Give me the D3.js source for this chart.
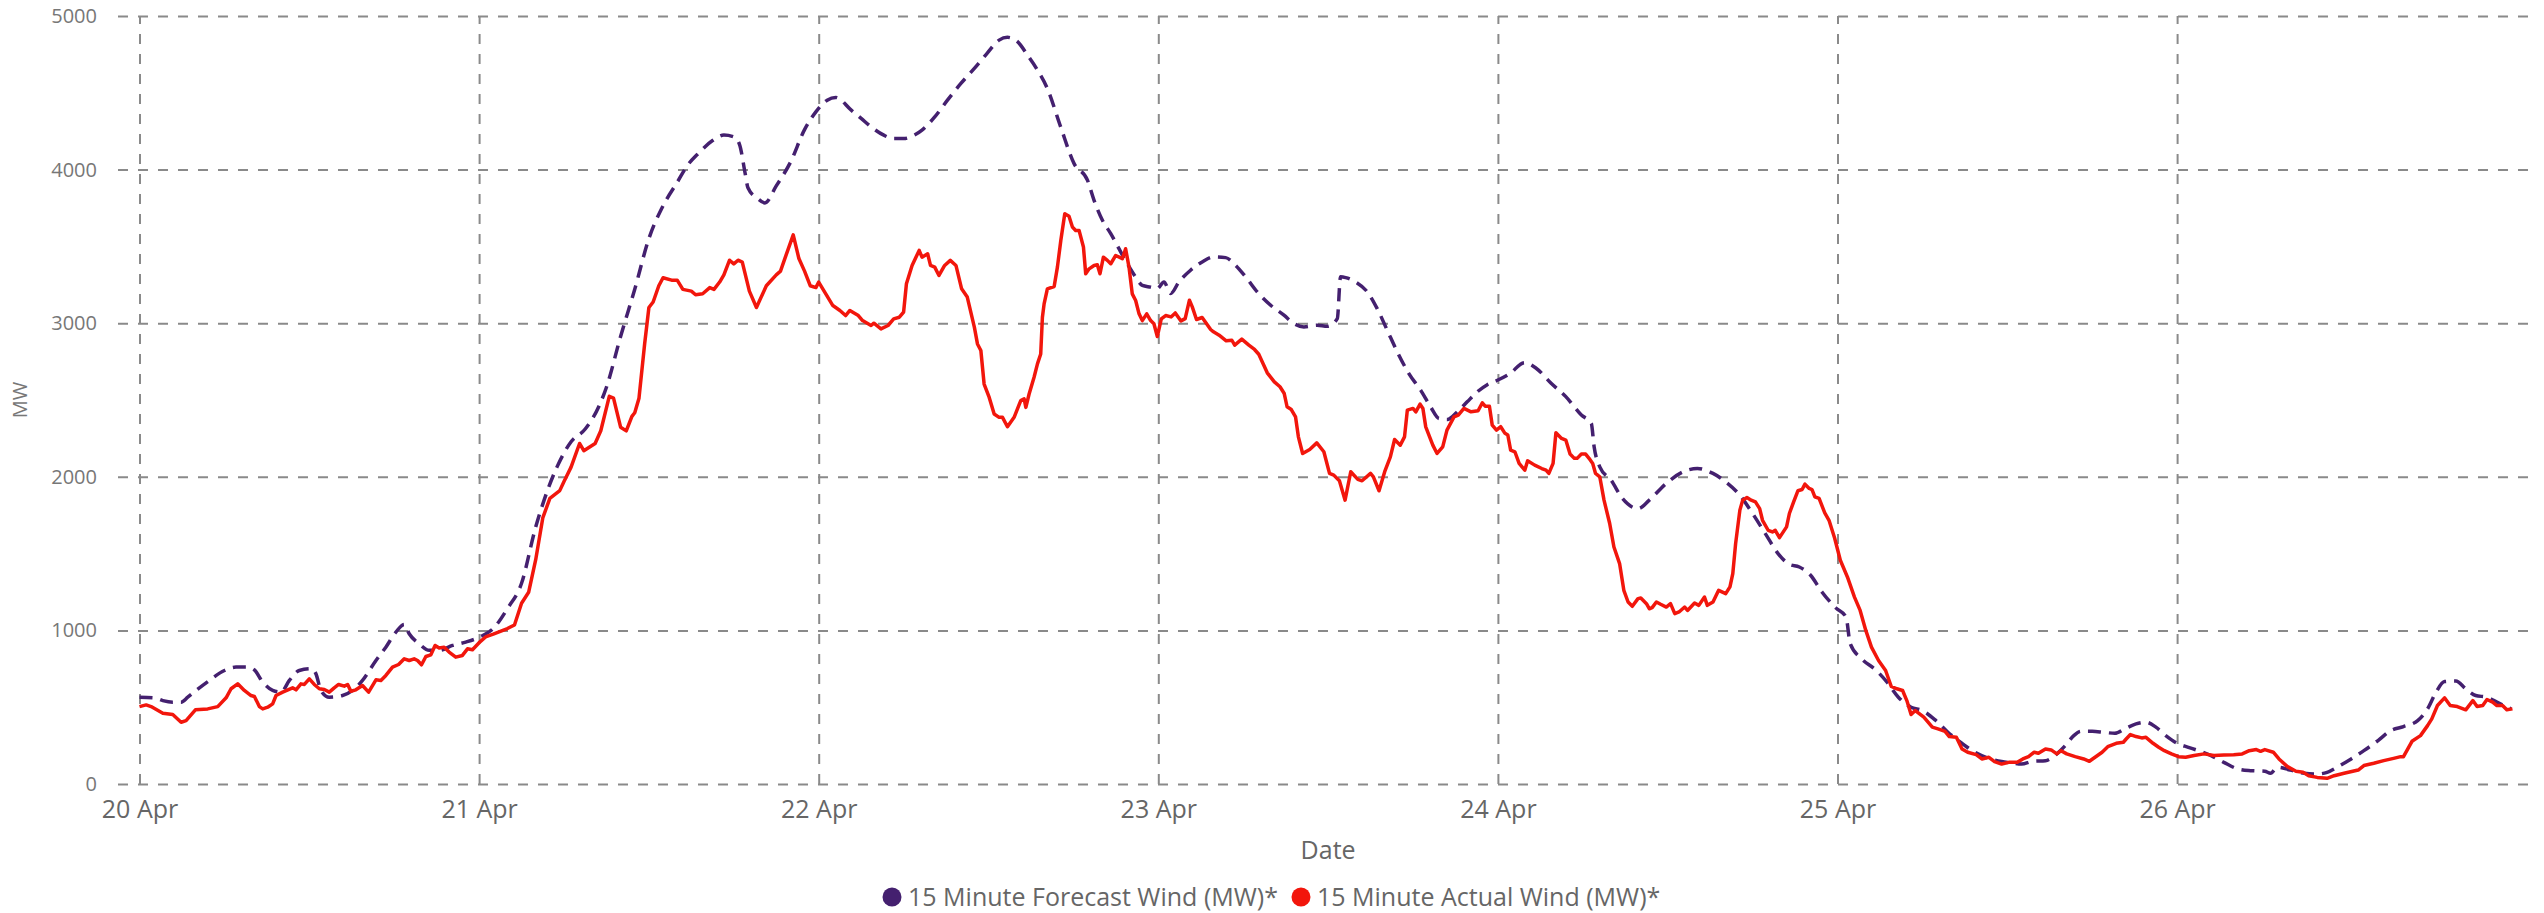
<!DOCTYPE html>
<html>
<head>
<meta charset="utf-8">
<script src="https://cdn.jsdelivr.net/npm/d3@7/dist/d3.min.js"></script>
<style>
  html, body { margin: 0; padding: 0; background: #fff; }
  svg { display: block; }
  text { font-family: "Segoe UI", "Open Sans", "Noto Sans", sans-serif; }
</style>
</head>
<body>
<svg id="chart" width="2544" height="913"></svg>
<script>
// ---- data (hours since 20 Apr 00:00, MW) ----
const dayLabels = ["20 Apr", "21 Apr", "22 Apr", "23 Apr", "24 Apr", "25 Apr", "26 Apr"];
const yTicks = [0, 1000, 2000, 3000, 4000, 5000];
const seriesNames = ["15 Minute Forecast Wind (MW)*", "15 Minute Actual Wind (MW)*"];

const forecast = [
  [0,565],[1.06,561],[1.65,543],[2.35,533],[2.94,533],[3.41,565],[4.0,609],[4.94,674],[6.0,739],[6.82,761],
  [7.65,761],[8.12,743],[8.71,663],[9.41,609],[10.0,598],[10.59,674],[11.29,739],[12.12,750],[12.47,717],[12.82,609],
  [13.41,565],[14.35,576],[15.06,609],[15.76,674],[16.71,804],[17.41,891],[18.12,989],[18.71,1039],[19.06,978],[19.76,913],
  [20.47,870],[21.18,870],[22.12,902],[23.06,924],[24,955],[25,1012],[26,1142],[27,1307],[28,1673],[28.6,1850],
  [29.5,2063],[30.5,2228],[31.5,2311],[32.5,2465],[33,2583],[34,2914],[35,3221],[36,3551],[37,3764],[38,3917],
  [38.7,4024],[39.5,4106],[40.5,4189],[41.3,4225],[42,4213],[42.4,4165],[42.8,3976],[43.0,3882],[43.7,3811],[44.2,3783],
  [45,3894],[46,4047],[47,4260],[47.8,4376],[48.6,4452],[49.2,4470],[50.3,4387],[51.0,4333],[51.7,4278],[52.6,4224],
  [53.3,4202],[54.0,4202],[54.75,4224],[55.3,4257],[56.2,4343],[57.1,4452],[58.05,4561],[59.0,4659],[59.9,4757],[60.75,4843],
  [61.34,4861],[62.05,4833],[62.75,4746],[63.46,4648],[64.16,4528],[65.1,4278],[66.05,4039],[67.0,3930],[67.46,3800],[68.05,3670],
  [68.64,3583],[69.22,3485],[69.81,3387],[70.4,3300],[70.87,3246],[71.46,3235],[71.93,3226],[72.4,3269],[72.87,3193],[73.46,3269],
  [74.28,3345],[75.1,3399],[75.93,3432],[76.76,3427],[77.46,3377],[78.17,3302],[78.99,3204],[79.94,3117],[80.88,3052],[81.58,2998],
  [82.29,2976],[83.23,2987],[83.94,2980],[84.65,3030],[84.88,3302],[85.24,3297],[85.94,3269],[86.77,3204],[87.47,3095],[88.18,2954],
  [88.89,2813],[89.71,2672],[90.54,2564],[91.24,2456],[91.83,2380],[92.42,2373],[93.13,2423],[93.83,2488],[94.54,2553],[95.25,2600],
  [96,2630],[96.82,2670],[97.88,2743],[98.7,2707],[99.76,2609],[100.8,2522],[101.9,2402],[102.6,2348],[102.8,2196],[103.2,2065],
  [104,1978],[104.8,1859],[105.9,1793],[106.7,1848],[107.9,1957],[109.1,2033],[110.1,2054],[111.2,2022],[112.1,1967],[113.1,1880],
  [114,1761],[114.9,1630],[115.8,1500],[116.6,1430],[117.3,1413],[118.1,1359],[118.9,1250],[119.9,1145],[120.6,1087],[120.9,913],
  [121.7,815],[122.7,743],[123.5,663],[124.3,565],[125.2,500],[126,478],[126.9,417],[127.8,337],[128.8,265],[129.7,207],
  [130.7,167],[131.6,146],[132.3,137],[133,130],[133.8,148],[134.7,152],[135.5,196],[136.1,250],[136.7,315],[137.2,343],
  [138,343],[138.8,337],[139.6,330],[140.3,359],[141.1,391],[141.8,402],[142.5,370],[143.2,315],[144,265],[144.8,239],
  [145.5,217],[146.4,185],[147.3,141],[148.3,98],[149.2,87],[150.2,83],[150.6,70],[151.1,109],[152,91],[153,70],
  [153.9,65],[154.6,76],[155.3,109],[156.3,163],[157.2,217],[158.2,283],[159.1,348],[160,374],[161,413],[161.7,489],
  [162.3,598],[162.9,667],[163.7,670],[164.4,620],[165.1,576],[165.9,565],[166.6,533],[167.6,489]
];

const actual = [
  [0,504],[0.47,515],[0.82,504],[1.65,461],[2.35,452],[2.94,402],[3.29,413],[3.95,483],[4.82,489],[5.53,504],
  [6.12,561],[6.47,620],[6.94,652],[7.41,609],[7.88,576],[8.12,570],[8.47,504],[8.71,489],[9.06,500],[9.41,522],
  [9.65,576],[10.12,598],[10.82,626],[11.06,613],[11.41,652],[11.65,648],[12.0,685],[12.35,648],[12.71,620],[13.06,615],
  [13.41,598],[13.76,626],[14.07,648],[14.47,637],[14.71,648],[14.94,604],[15.29,613],[15.76,641],[16.19,598],[16.71,678],
  [17.06,674],[17.41,707],[17.88,761],[18.31,778],[18.71,815],[19.06,804],[19.41,815],[19.65,804],[19.93,776],[20.24,830],
  [20.59,841],[20.89,902],[21.18,885],[21.53,891],[21.88,859],[22.35,826],[22.82,837],[23.18,880],[23.53,874],[24.0,920],
  [24.5,960],[25,976],[26,1012],[26.5,1035],[27,1177],[27.5,1248],[28,1460],[28.5,1732],[29,1860],[29.7,1910],
  [30,1970],[30.5,2063],[31.1,2217],[31.4,2170],[32.2,2217],[32.6,2300],[33.2,2524],[33.5,2512],[34.0,2323],[34.4,2299],
  [34.8,2394],[35.0,2417],[35.3,2512],[35.7,2866],[36.0,3102],[36.3,3138],[36.7,3244],[37.0,3296],[37.6,3280],[38.0,3280],
  [38.4,3220],[39.0,3209],[39.3,3185],[39.8,3192],[40.3,3232],[40.6,3220],[41.0,3268],[41.3,3315],[41.7,3410],[42.0,3386],
  [42.3,3410],[42.6,3398],[43.1,3209],[43.6,3102],[44.3,3244],[45.0,3315],[45.3,3339],[45.7,3445],[46.2,3575],[46.6,3421],
  [47.0,3339],[47.4,3244],[47.8,3232],[48.0,3267],[48.5,3191],[49.0,3115],[49.5,3083],[49.9,3050],[50.2,3083],[50.8,3050],
  [51.1,3017],[51.7,2985],[51.9,3000],[52.4,2963],[52.9,2985],[53.3,3028],[53.7,3039],[54.0,3072],[54.2,3257],[54.6,3376],
  [55.1,3474],[55.3,3430],[55.7,3452],[55.9,3376],[56.2,3365],[56.5,3311],[56.9,3376],[57.3,3409],[57.7,3376],[58.1,3224],
  [58.5,3170],[59.0,2974],[59.22,2865],[59.46,2822],[59.69,2604],[60.05,2517],[60.4,2409],[60.75,2387],[60.99,2387],[61.34,2326],
  [61.81,2387],[62.28,2496],[62.52,2507],[62.64,2452],[62.87,2539],[63.22,2648],[63.46,2735],[63.69,2800],[63.81,3039],[63.93,3126],
  [64.16,3224],[64.64,3239],[64.87,3365],[65.11,3539],[65.39,3713],[65.69,3696],[65.93,3626],[66.16,3604],[66.4,3604],[66.71,3496],
  [66.87,3322],[67.11,3354],[67.46,3376],[67.69,3380],[67.88,3322],[68.12,3430],[68.4,3409],[68.64,3387],[68.99,3441],[69.46,3420],
  [69.69,3485],[69.93,3365],[70.16,3191],[70.4,3148],[70.64,3061],[70.87,3017],[71.18,3061],[71.46,3017],[71.69,2996],[71.93,2913],
  [72.21,3028],[72.52,3050],[72.9,3041],[73.2,3067],[73.6,3015],[73.9,3030],[74.2,3150],[74.4,3106],[74.7,3024],[75.1,3037],
  [75.7,2959],[75.9,2944],[76.3,2922],[76.8,2885],[77.2,2889],[77.4,2857],[77.9,2896],[78.4,2857],[78.8,2829],[79.1,2798],
  [79.4,2738],[79.7,2677],[80.2,2618],[80.6,2586],[80.9,2542],[81.1,2456],[81.4,2438],[81.7,2390],[81.9,2260],[82.2,2152],
  [82.7,2178],[83.2,2221],[83.7,2163],[84.1,2022],[84.4,2011],[84.8,1974],[85.2,1848],[85.6,2033],[86.1,1983],[86.4,1974],
  [87.0,2022],[87.2,2000],[87.6,1909],[88.0,2033],[88.4,2130],[88.7,2243],[89.1,2206],[89.4,2260],[89.6,2434],[90.0,2445],
  [90.2,2423],[90.5,2473],[90.7,2445],[90.9,2325],[91.4,2206],[91.7,2152],[92.1,2195],[92.4,2304],[92.9,2390],[93.2,2401],
  [93.6,2445],[94.1,2423],[94.6,2430],[94.9,2482],[95.1,2460],[95.4,2460],[95.6,2336],[95.9,2304],[96.2,2326],[96.5,2283],
  [96.7,2272],[96.9,2174],[97.2,2163],[97.5,2087],[97.9,2043],[98.1,2104],[98.6,2076],[99.1,2054],[99.4,2043],[99.6,2022],
  [99.9,2087],[100.1,2287],[100.5,2250],[100.8,2239],[101.1,2148],[101.4,2120],[101.6,2120],[101.9,2148],[102.2,2148],[102.5,2113],
  [102.7,2087],[102.9,2022],[103.2,2000],[103.5,1848],[103.9,1696],[104.2,1543],[104.6,1435],[104.9,1261],[105.2,1185],[105.5,1157],
  [105.9,1207],[106.1,1211],[106.5,1174],[106.7,1141],[106.9,1148],[107.2,1185],[107.5,1170],[107.9,1152],[108.2,1174],[108.5,1109],
  [108.8,1120],[109.2,1152],[109.4,1130],[109.9,1178],[110.2,1163],[110.6,1217],[110.8,1163],[111.2,1185],[111.6,1261],[112.1,1239],
  [112.4,1283],[112.6,1370],[112.8,1565],[113.1,1783],[113.3,1848],[113.6,1865],[113.9,1848],[114.2,1837],[114.5,1793],[114.7,1717],
  [115.1,1652],[115.4,1641],[115.6,1652],[115.9,1604],[116.4,1674],[116.6,1761],[116.9,1837],[117.2,1909],[117.5,1917],[117.7,1952],
  [118.0,1924],[118.2,1917],[118.4,1870],[118.7,1859],[119.1,1765],[119.4,1717],[119.8,1600],[120.2,1457],[120.7,1348],[121.2,1217],
  [121.6,1130],[122.0,1000],[122.4,891],[122.9,804],[123.4,739],[123.8,635],[124.2,620],[124.6,609],[124.9,543],[125.2,452],
  [125.5,478],[126.1,435],[126.7,370],[127.1,359],[127.6,343],[127.9,309],[128.4,304],[128.8,228],[129.2,207],[129.8,191],
  [130.2,163],[130.7,174],[131.1,146],[131.6,130],[132.1,141],[132.7,141],[133.1,163],[133.5,178],[133.9,207],[134.2,200],
  [134.7,228],[135.1,222],[135.5,196],[135.8,217],[136.2,196],[136.8,178],[137.4,163],[137.8,148],[138.2,174],[138.7,207],
  [139.1,243],[139.7,265],[140.2,272],[140.4,293],[140.7,322],[141.1,309],[141.5,300],[141.8,304],[142.3,265],[142.7,239],
  [143.1,217],[143.6,196],[144.1,178],[144.6,174],[145.2,185],[145.9,196],[146.6,185],[147.3,189],[148.0,191],[148.6,196],
  [149.1,217],[149.6,224],[149.9,213],[150.2,224],[150.8,207],[151.2,163],[151.8,113],[152.4,83],[152.9,76],[153.3,54],
  [153.9,43],[154.6,37],[155.1,54],[155.8,70],[156.8,91],[157.2,120],[157.9,135],[158.6,152],[159.3,167],[159.8,178],
  [160.0,178],[160.6,278],[161.2,315],[161.7,380],[162.0,424],[162.4,511],[162.9,561],[163.3,511],[163.8,504],[164.4,483],
  [164.9,543],[165.2,504],[165.6,511],[165.9,550],[166.3,533],[166.6,511],[167.0,511],[167.3,483],[167.7,489]
];

// ---- setup ----
const START = Date.UTC(2024, 3, 20);
const toDate = h => new Date(START + h * 3600000);

const svg = d3.select("#chart");
const plotLeft = 139.5, plotRight = 2516.7, plotTop = 16, plotBottom = 784;
const gridLeft = 118, gridRight = 2528;

const x = d3.scaleUtc().domain([toDate(0), toDate(168)]).range([plotLeft, plotRight]);
const y = d3.scaleLinear().domain([0, 5000]).range([plotBottom, plotTop]);

const gridColor = "#8a8a8a";

// Y axis with horizontal grid
const yAxis = svg.append("g")
  .attr("transform", `translate(${gridLeft},0)`)
  .call(d3.axisLeft(y).tickValues(yTicks).tickSize(-(gridRight - gridLeft)).tickPadding(21).tickFormat(d3.format("d")));
yAxis.select(".domain").remove();
yAxis.selectAll(".tick line")
  .attr("stroke", gridColor).attr("stroke-width", 2).attr("stroke-dasharray", "10,10");
yAxis.selectAll(".tick text")
  .attr("fill", "#777").style("font-size", "20px");

// X axis with vertical grid
const dayTicks = dayLabels.map((_, i) => toDate(i * 24));
const xAxis = svg.append("g")
  .attr("transform", `translate(0,${plotBottom})`)
  .call(d3.axisBottom(x).tickValues(dayTicks).tickSize(-(plotBottom - plotTop)).tickPadding(16)
    .tickFormat((d, i) => dayLabels[i]));
xAxis.select(".domain").remove();
xAxis.selectAll(".tick line")
  .attr("stroke", gridColor).attr("stroke-width", 2).attr("stroke-dasharray", "10,10");
xAxis.selectAll(".tick text")
  .attr("fill", "#666").style("font-size", "25px");

// Axis titles
svg.append("text")
  .attr("x", (plotLeft + plotRight) / 2).attr("y", 859)
  .attr("text-anchor", "middle").attr("fill", "#666").style("font-size", "25px")
  .text("Date");
svg.append("text")
  .attr("transform", `translate(27,${(plotTop + plotBottom) / 2}) rotate(-90)`)
  .attr("text-anchor", "middle").attr("fill", "#777").style("font-size", "20px")
  .text("MW");

// Lines
const colors = ["#44206f", "#f2160c"];
const lineF = d3.line().x(d => x(toDate(d[0]))).y(d => y(d[1])).curve(d3.curveMonotoneX);
const lineA = d3.line().x(d => x(toDate(d[0]))).y(d => y(d[1])).curve(d3.curveLinear);

svg.append("path").datum(forecast)
  .attr("fill", "none").attr("stroke", colors[0]).attr("stroke-width", 3.5)
  .attr("stroke-dasharray", "13,8").attr("d", lineF);
svg.append("path").datum(actual)
  .attr("fill", "none").attr("stroke", colors[1]).attr("stroke-width", 3.5)
  .attr("stroke-linejoin", "round").attr("d", lineA);

// Legend
const legend = svg.append("g");
let cx = 892;
const ly = 897;
seriesNames.forEach((name, i) => {
  legend.append("circle").attr("cx", cx).attr("cy", ly).attr("r", 9.5).attr("fill", colors[i]);
  const t = legend.append("text")
    .attr("x", cx + 16).attr("y", ly).attr("dy", "0.35em")
    .attr("fill", "#666").style("font-size", "25px").text(name);
  const w = t.node().getComputedTextLength();
  cx = cx + 16 + w + 23;
});
</script>
</body>
</html>
